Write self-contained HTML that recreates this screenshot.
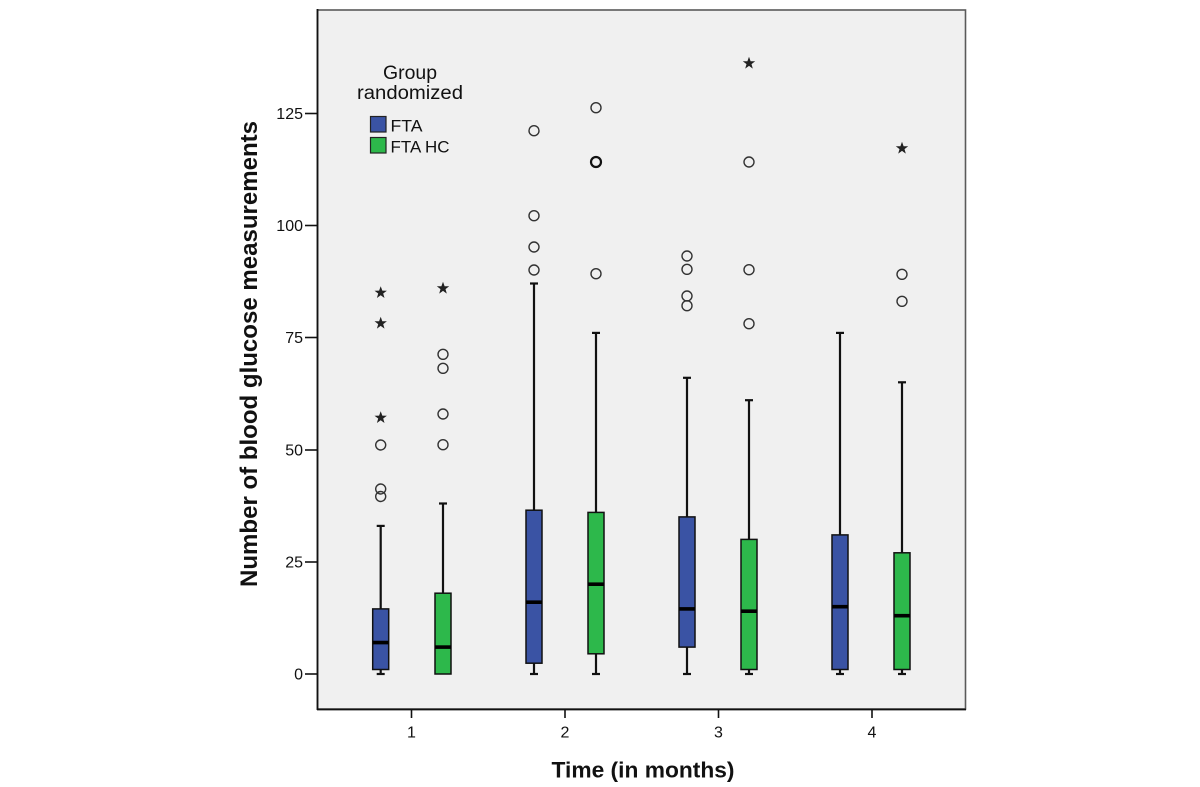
<!DOCTYPE html>
<html><head><meta charset="utf-8"><style>
html,body{margin:0;padding:0;background:#fff;}
svg{display:block;}
text{font-family:"Liberation Sans",Arial,sans-serif;fill:#111;}
</style></head><body>
<svg width="1200" height="787" viewBox="0 0 1200 787" xmlns="http://www.w3.org/2000/svg">
<defs>
<polygon id="st" points="0,-6.5 1.6,-2.1 6.2,-2 2.5,0.8 3.8,5.3 0,2.6 -3.8,5.3 -2.5,0.8 -6.2,-2 -1.6,-2.1" fill="#222"/>
</defs>
<rect x="317.5" y="10" width="648" height="699" fill="#f0f0f0" stroke="#5a5a5a" stroke-width="1.6"/>
<line x1="317.5" y1="9" x2="317.5" y2="710" stroke="#111" stroke-width="1.8"/>
<line x1="317" y1="709.5" x2="966" y2="709.5" stroke="#111" stroke-width="1.8"/>
<g stroke="#111" stroke-width="1.6">
<line x1="305" y1="674" x2="317" y2="674"/>
<line x1="305" y1="562" x2="317" y2="562"/>
<line x1="305" y1="450" x2="317" y2="450"/>
<line x1="305" y1="337.5" x2="317" y2="337.5"/>
<line x1="305" y1="225.5" x2="317" y2="225.5"/>
<line x1="305" y1="113.5" x2="317" y2="113.5"/>
<line x1="411.5" y1="709" x2="411.5" y2="718"/>
<line x1="565" y1="709" x2="565" y2="718"/>
<line x1="718.5" y1="709" x2="718.5" y2="718"/>
<line x1="872" y1="709" x2="872" y2="718"/>
</g>
<g font-size="16" text-anchor="end">
<text x="303" y="679.5">0</text>
<text x="303" y="567.5">25</text>
<text x="303" y="455.5">50</text>
<text x="303" y="343">75</text>
<text x="303" y="231">100</text>
<text x="303" y="119">125</text>
</g>
<g font-size="16" text-anchor="middle">
<text x="411.5" y="737.5">1</text>
<text x="565" y="737.5">2</text>
<text x="718.5" y="737.5">3</text>
<text x="872" y="737.5">4</text>
</g>
<text x="551.5" y="777.5" font-size="22" font-weight="bold" textLength="183" lengthAdjust="spacingAndGlyphs">Time (in months)</text>
<text transform="translate(257,587) rotate(-90)" x="0" y="0" font-size="24" font-weight="bold" textLength="466" lengthAdjust="spacingAndGlyphs">Number of blood glucose measurements</text>

<!-- legend -->
<text x="410" y="79" font-size="19" text-anchor="middle" textLength="54" lengthAdjust="spacingAndGlyphs">Group</text>
<text x="410" y="99" font-size="19" text-anchor="middle" textLength="106" lengthAdjust="spacingAndGlyphs">randomized</text>
<rect x="370.5" y="116.5" width="15.5" height="15.5" fill="#3a53a4" stroke="#222" stroke-width="1.2"/>
<rect x="370.5" y="137.5" width="15.5" height="15.5" fill="#2db84b" stroke="#222" stroke-width="1.2"/>
<text x="390.5" y="131.5" font-size="16.5" textLength="32" lengthAdjust="spacingAndGlyphs">FTA</text>
<text x="390.5" y="152.5" font-size="16.5" textLength="59" lengthAdjust="spacingAndGlyphs">FTA HC</text>

<!-- boxes: whiskers -->
<g stroke="#111" stroke-width="2.2">
<!-- group1 blue cx 380.7 -->
<line x1="380.7" y1="525.9" x2="380.7" y2="608.9"/><line x1="376.7" y1="525.9" x2="384.7" y2="525.9"/>
<line x1="380.7" y1="669.5" x2="380.7" y2="674"/><line x1="376.7" y1="674" x2="384.7" y2="674"/>
<!-- group1 green cx 443 -->
<line x1="443" y1="503.5" x2="443" y2="593.2"/><line x1="439" y1="503.5" x2="447" y2="503.5"/>
<!-- group2 blue 534 -->
<line x1="534" y1="283.5" x2="534" y2="510.2"/><line x1="530" y1="283.5" x2="538" y2="283.5"/>
<line x1="534" y1="663.2" x2="534" y2="674"/><line x1="530" y1="674" x2="538" y2="674"/>
<!-- group2 green 596 -->
<line x1="596" y1="332.9" x2="596" y2="512.4"/><line x1="592" y1="332.9" x2="600" y2="332.9"/>
<line x1="596" y1="653.8" x2="596" y2="674"/><line x1="592" y1="674" x2="600" y2="674"/>
<!-- group3 blue 687 -->
<line x1="687" y1="377.8" x2="687" y2="516.9"/><line x1="683" y1="377.8" x2="691" y2="377.8"/>
<line x1="687" y1="647.1" x2="687" y2="674"/><line x1="683" y1="674" x2="691" y2="674"/>
<!-- group3 green 749 -->
<line x1="749" y1="400.2" x2="749" y2="539.4"/><line x1="745" y1="400.2" x2="753" y2="400.2"/>
<line x1="749" y1="669.5" x2="749" y2="674"/><line x1="745" y1="674" x2="753" y2="674"/>
<!-- group4 blue 840 -->
<line x1="840" y1="332.9" x2="840" y2="534.9"/><line x1="836" y1="332.9" x2="844" y2="332.9"/>
<line x1="840" y1="669.5" x2="840" y2="674"/><line x1="836" y1="674" x2="844" y2="674"/>
<!-- group4 green 902 -->
<line x1="902" y1="382.3" x2="902" y2="552.8"/><line x1="898" y1="382.3" x2="906" y2="382.3"/>
<line x1="902" y1="669.5" x2="902" y2="674"/><line x1="898" y1="674" x2="906" y2="674"/>
</g>
<g stroke="#111" stroke-width="1.5">
<rect x="372.7" y="608.9" width="16" height="60.6" fill="#3a53a4"/>
<rect x="435" y="593.2" width="16" height="80.8" fill="#2db84b"/>
<rect x="526" y="510.2" width="16" height="153" fill="#3a53a4"/>
<rect x="588" y="512.4" width="16" height="141.4" fill="#2db84b"/>
<rect x="679" y="516.9" width="16" height="130.2" fill="#3a53a4"/>
<rect x="741" y="539.4" width="16" height="130.1" fill="#2db84b"/>
<rect x="832" y="534.9" width="16" height="134.6" fill="#3a53a4"/>
<rect x="894" y="552.8" width="16" height="116.7" fill="#2db84b"/>
</g>
<g stroke="#000" stroke-width="3.6">
<line x1="372.7" y1="642.6" x2="388.7" y2="642.6"/>
<line x1="435" y1="647.1" x2="451" y2="647.1"/>
<line x1="526" y1="602.2" x2="542" y2="602.2"/>
<line x1="588" y1="584.2" x2="604" y2="584.2"/>
<line x1="679" y1="608.9" x2="695" y2="608.9"/>
<line x1="741" y1="611.2" x2="757" y2="611.2"/>
<line x1="832" y1="606.7" x2="848" y2="606.7"/>
<line x1="894" y1="615.7" x2="910" y2="615.7"/>
</g>

<!-- outliers -->
<g fill="none" stroke="#333" stroke-width="1.4">
<circle cx="380.7" cy="445" r="5"/>
<circle cx="380.7" cy="489" r="5"/>
<circle cx="380.7" cy="496.5" r="5"/>
<circle cx="443" cy="354.3" r="5"/>
<circle cx="443" cy="368.3" r="5"/>
<circle cx="443" cy="414" r="5"/>
<circle cx="443" cy="444.7" r="5"/>
<circle cx="534" cy="130.7" r="5"/>
<circle cx="534" cy="215.7" r="5"/>
<circle cx="534" cy="247" r="5"/>
<circle cx="534" cy="270" r="5"/>
<circle cx="596" cy="107.7" r="5"/>
<circle cx="596" cy="162" r="5" stroke-width="2.2" stroke="#111"/>
<circle cx="596" cy="273.7" r="5"/>
<circle cx="687" cy="256" r="5"/>
<circle cx="687" cy="269.3" r="5"/>
<circle cx="687" cy="296" r="5"/>
<circle cx="687" cy="305.7" r="5"/>
<circle cx="749" cy="162" r="5"/>
<circle cx="749" cy="269.7" r="5"/>
<circle cx="749" cy="323.7" r="5"/>
<circle cx="902" cy="274.3" r="5"/>
<circle cx="902" cy="301.3" r="5"/>
</g>
<use href="#st" x="380.7" y="292.7"/>
<use href="#st" x="380.7" y="323.3"/>
<use href="#st" x="380.7" y="417.7"/>
<use href="#st" x="443" y="288.3"/>
<use href="#st" x="749" y="63.3"/>
<use href="#st" x="902" y="148.3"/>
</svg>
</body></html>
